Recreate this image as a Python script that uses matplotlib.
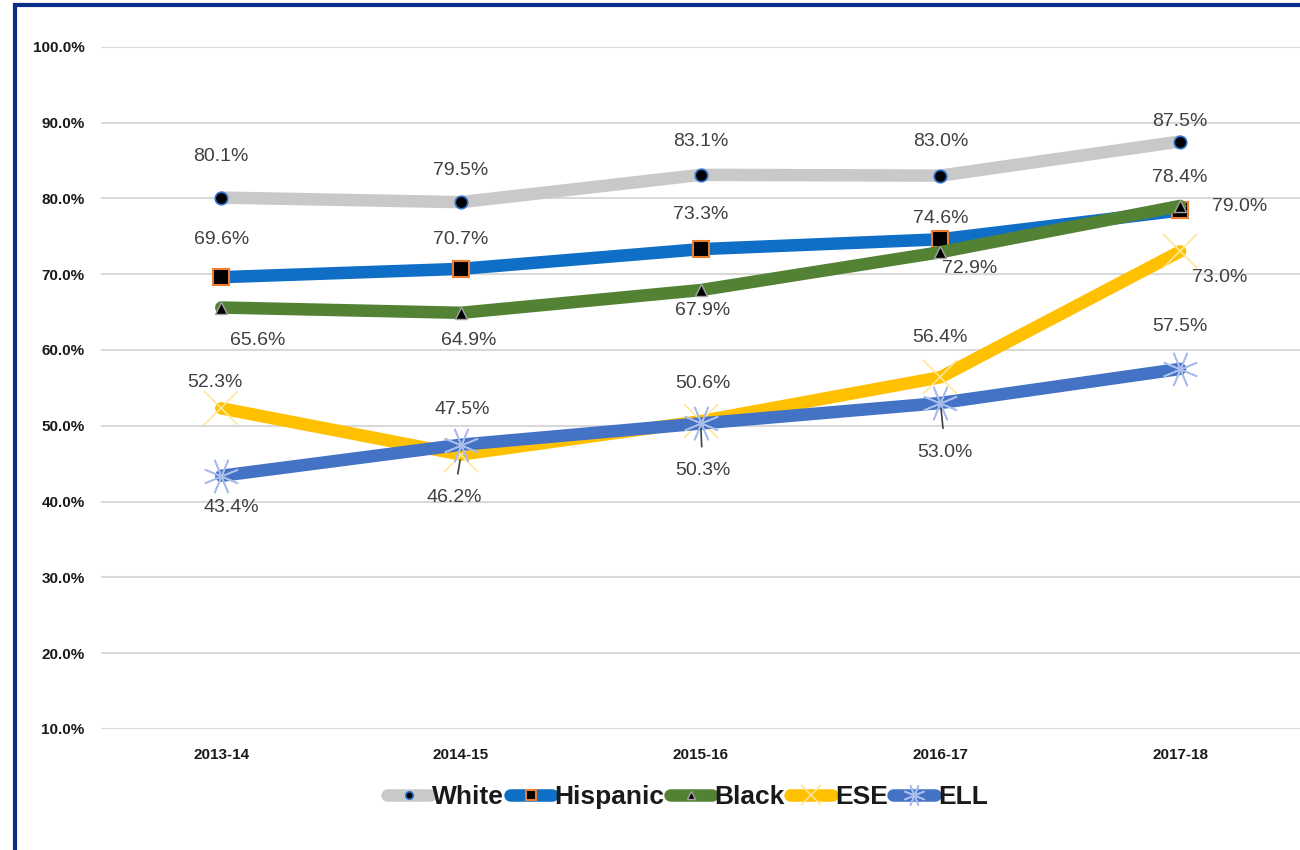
import matplotlib.pyplot as plt
from matplotlib.patches import Rectangle
from matplotlib.ticker import FuncFormatter

plt.rcParams['font.family'] = ['Liberation Sans', 'DejaVu Sans']

years = ['2013-14', '2014-15', '2015-16', '2016-17', '2017-18']
white = [80.1, 79.5, 83.1, 83.0, 87.5]
hispanic = [69.6, 70.7, 73.3, 74.6, 78.4]
black = [65.6, 64.9, 67.9, 72.9, 79.0]
ese = [52.3, 46.2, 50.6, 56.4, 73.0]
ell = [43.4, 47.5, 50.3, 53.0, 57.5]

# label offsets in pixels (dx, dy)
white_off = [(0, 41), (0, 32), (0, 33), (0, 34), (0, 20)]
hisp_off = [(0, 38), (0, 29), (0, 35), (0, 21), (0, 33)]
black_off = [(36, -33), (8, -28), (2, -20), (29, -16), (59, -1)]
ese_off = [(-6, 26), (-7, -43), (2, 38), (0, 40), (40, -26)]
ell_off = [(10, -32), (1, 35), (2, -47), (5, -49), (0, 42)]
leaders = {'ESE': [1], 'ELL': [2, 3]}

fig = plt.figure(figsize=(13, 8.5), dpi=100)
ax = fig.add_axes([0.078, 0.1424, 0.922, 0.8026])

x = list(range(len(years)))
ell_marker = (8, 2, 22.5)
series = [
    ('White', white, white_off, dict(color='#C9C9C9', marker='o', markersize=9,
                                     markerfacecolor='black', markeredgecolor='#2E75D0', markeredgewidth=1.2)),
    ('Hispanic', hispanic, hisp_off, dict(color='#0F6FC6', marker='s', markersize=11,
                                          markerfacecolor='black', markeredgecolor='#ED7D31', markeredgewidth=1.5)),
    ('Black', black, black_off, dict(color='#548235', marker='^', markersize=9,
                                     markerfacecolor='black', markeredgecolor='#A5A5A5', markeredgewidth=1)),
    ('ESE', ese, ese_off, dict(color='#FFC000', marker='x', markersize=24,
                               markeredgecolor='#FFE699', markeredgewidth=1.2)),
    ('ELL', ell, ell_off, dict(color='#4472C4', marker=ell_marker, markersize=26,
                               markeredgecolor='#A9BDEB', markeredgewidth=1.2)),
]

handles = []
for name, vals, offs, style in series:
    ln, = ax.plot(x, vals, linewidth=9, solid_capstyle='round', label=name, **style)
    handles.append(ln)
    for i, v in enumerate(vals):
        dx, dy = offs[i]
        arrow = None
        if i in leaders.get(name, []):
            arrow = dict(arrowstyle='-', color='#404040', lw=1.2, shrinkA=9, shrinkB=4)
        ax.annotate(f'{v:.1f}%', (x[i], v), xytext=(dx, dy), textcoords='offset pixels',
                    ha='center', va='center', fontsize=14, color='#404040',
                    arrowprops=arrow, zorder=5)

ax.set_ylim(10, 100)
ax.set_xlim(-0.5, 4.5)
ax.set_yticks(range(10, 101, 10))
ax.yaxis.set_major_formatter(FuncFormatter(lambda v, p: f'{v:.1f}%'))
ax.set_xticks(x)
ax.set_xticklabels(years)
ax.grid(axis='y', color='#D9D9D9', linewidth=1.5)
ax.set_axisbelow(True)
for s in ax.spines.values():
    s.set_visible(False)
ax.tick_params(axis='both', length=0, labelsize=11)
ax.tick_params(axis='y', pad=12)
ax.tick_params(axis='x', pad=14)
for lab in ax.get_xticklabels() + ax.get_yticklabels():
    lab.set_fontweight('bold')
    lab.set_color('#1a1a1a')

leg = fig.legend(handles=handles, loc='center', bbox_to_anchor=(0.529, 0.062), ncol=5,
                 frameon=False, prop=dict(size=19, weight='bold'), handlelength=1.6,
                 handletextpad=0.1, columnspacing=0.2, markerscale=0.6)
for t in leg.get_texts():
    t.set_color('#1a1a1a')

# dark blue frame on left and top edges
fig.add_artist(Rectangle((15 / 1300, -0.2), 1.5, 1.2 - 5 / 850, transform=fig.transFigure,
                         fill=False, edgecolor='#0B2E8A', linewidth=3))

fig.savefig('out.png', dpi=100)
